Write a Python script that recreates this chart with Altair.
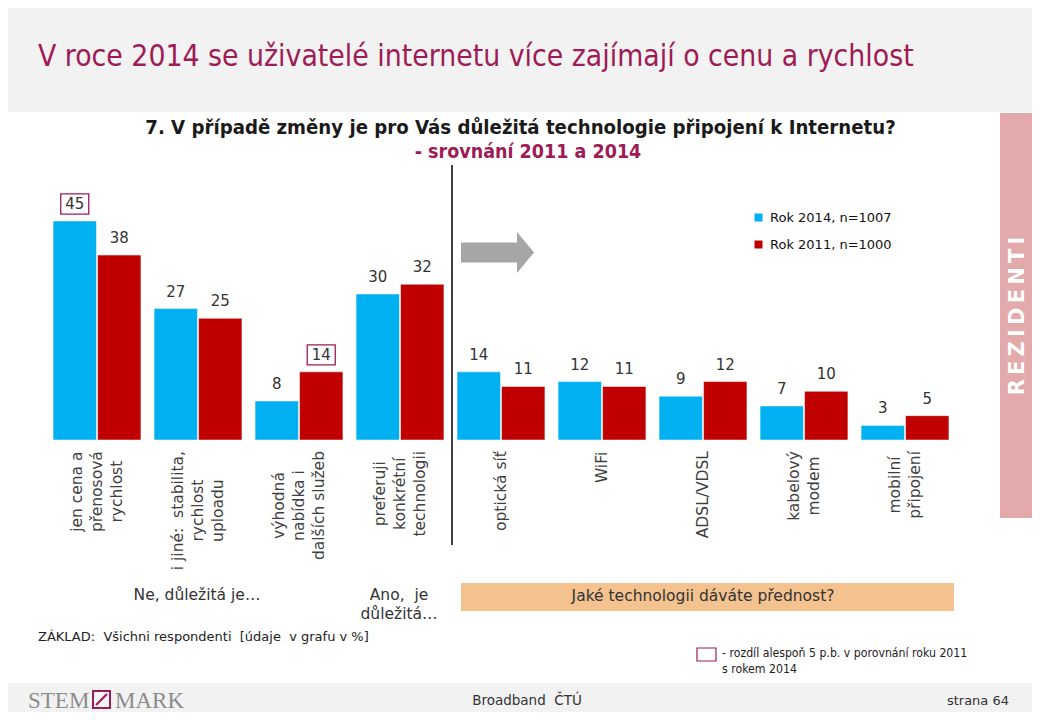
import altair as alt
import pandas as pd

# ---------------- data ----------------
categories = [
    "jen cena a přenosová rychlost",
    "i jiné: stabilita, rychlost uploadu",
    "výhodná nabídka i dalších služeb",
    "preferuji konkrétní technologii",
    "optická síť",
    "WiFi",
    "ADSL/VDSL",
    "kabelový modem",
    "mobilní připojení",
]
label_lines = [
    ["jen cena a", "přenosová", "rychlost"],
    ["i jiné:\u00a0 stabilita,", "rychlost", "uploadu"],
    ["výhodná", "nabídka i", "dalších služeb"],
    ["preferuji", "konkrétní", "technologii"],
    ["optická síť"],
    ["WiFi"],
    ["ADSL/VDSL"],
    ["kabelový", "modem"],
    ["mobilní", "připojení"],
]
series = ["Rok 2014, n=1007", "Rok 2011, n=1000"]
values_2014 = [45, 27, 8, 30, 14, 12, 9, 7, 3]
values_2011 = [38, 25, 14, 32, 11, 11, 12, 10, 5]
highlighted = [(categories[0], series[0]), (categories[2], series[1])]

slide_title = "V roce 2014 se uživatelé internetu více zajímají o cenu a rychlost"
question = "7. V případě změny je pro Vás důležitá technologie připojení k Internetu?"
question_sub = "- srovnání 2011 a 2014"
group_no = "Ne, důležitá je…"
group_yes = ["Ano,\u00a0 je", "důležitá…"]
group_tech = "Jaké technologii dáváte přednost?"
base_note = "ZÁKLAD:\u00a0 Všichni respondenti\u00a0 [údaje\u00a0 v grafu v %]"
diff_note = ["- rozdíl alespoň 5 p.b. v porovnání roku 2011", "s rokem 2014"]
side_text = "R\u2009E\u2009Z\u2009I\u2009D\u2009E\u2009N\u2009T\u2009I"
footer_mid = "Broadband\u00a0 ČTÚ"
footer_right = "strana 64"
logo_left = "STEM"
logo_right = "MARK"

# ---------------- helpers ----------------
OFF = 8  # page margin


def px(v):
    return v - OFF


MAROON = "#9E1B55"
BLUE = "#00B0F0"
RED = "#C00000"
TXT = "#333333"
one = pd.DataFrame({"k": [0]})

# approximate DejaVu Sans advance widths (em) for centering rotated labels
CW = {' ': .318, '\u00a0': .318, 'a': .613, 'á': .613, 'b': .635, 'c': .550, 'č': .550,
      'd': .635, 'e': .615, 'é': .615, 'ě': .615, 'f': .352, 'g': .635, 'h': .634,
      'i': .278, 'í': .278, 'j': .278, 'k': .579, 'l': .278, 'm': .974, 'n': .634,
      'o': .612, 'p': .635, 'r': .411, 'ř': .411, 's': .521, 'š': .521, 't': .392,
      'ť': .392, 'u': .634, 'ů': .634, 'v': .592, 'y': .592, 'ý': .592, 'z': .525,
      'ž': .525, ',': .318, ':': .337, '/': .337, 'A': .684, 'D': .770, 'S': .635,
      'L': .557, 'V': .684, 'W': .989, 'F': .575}
LAB_FS = 15.5
LAB_LH = 20


def text_w(s, fs):
    return sum(CW.get(c, 0.6) for c in s) * fs


def rect(x1, y1, x2, y2, **kw):
    return alt.Chart(one).mark_rect(**kw).encode(
        x=alt.value(px(x1)), x2=alt.value(px(x2)),
        y=alt.value(px(y1)), y2=alt.value(px(y2)))


def label(text, x, y, **kw):
    return alt.Chart(pd.DataFrame({"t": [text]})).mark_text(**kw).encode(
        x=alt.value(px(x)), y=alt.value(px(y)), text="t:N")


# ---------------- scales ----------------
x_scale = alt.Scale(domain=categories, range=[px(46.5), px(955.5)],
                    paddingInner=0.13, paddingOuter=0.065)
Y0, Y45 = px(440), px(221)
y_scale = alt.Scale(domain=[0, 45], range=[Y0, Y45], nice=False, zero=True)
px_per_unit = (Y0 - Y45) / 45.0
color_scale = alt.Scale(domain=series, range=[BLUE, RED])

X = alt.X("category:N", scale=x_scale, axis=None, sort=categories)
XO = alt.XOffset("series:N", scale=alt.Scale(domain=series, paddingInner=0.025), sort=series)
Y = alt.Y("value:Q", scale=y_scale, axis=None)

rows = []
for c, v14, v11 in zip(categories, values_2014, values_2011):
    rows.append({"category": c, "series": series[0], "value": v14})
    rows.append({"category": c, "series": series[1], "value": v11})
bars_df = pd.DataFrame(rows)
hl_df = pd.DataFrame([r for r in rows if (r["category"], r["series"]) in highlighted])

lab_df = pd.DataFrame({
    "category": categories,
    "lines": label_lines,
    "n": [len(ls) for ls in label_lines],
    "ly": [px(451) + max(text_w(l, LAB_FS) for l in ls) / 2 for ls in label_lines],
})

# ---------------- layers ----------------
layers = []
# backgrounds
layers.append(rect(0, 0, 1040, 112, color="#F2F2F2"))
layers.append(rect(0, 683, 1040, 720, color="#F2F2F2"))
layers.append(rect(1000, 113, 1040, 518, color="#E2AAAA"))
layers.append(rect(461, 583, 954, 611, color="#F4C28F"))

# divider
layers.append(alt.Chart(one).mark_rule(color="black", strokeWidth=1.5).encode(
    x=alt.value(px(452)), y=alt.value(px(165)), y2=alt.value(px(545))))

# bars
layers.append(alt.Chart(bars_df).mark_bar(stroke="white", strokeWidth=0.5).encode(
    x=X, xOffset=XO, y=Y,
    color=alt.Color("series:N", scale=color_scale, sort=series,
                    legend=alt.Legend(title=None, orient="none", legendX=px(752), legendY=px(211),
                                      symbolType="square", symbolSize=64, symbolStrokeWidth=0,
                                      labelFont="DejaVu Sans", labelFontSize=13, labelColor="#111111",
                                      rowPadding=13, labelOffset=5, padding=0))))

# value labels
layers.append(alt.Chart(bars_df).mark_text(font="DejaVu Sans", fontSize=15, color=TXT,
                                           baseline="middle", dy=-17).encode(
    x=X, xOffset=XO, y=Y, text="value:Q"))

# highlight boxes
BOX = "M-1,-0.72L1,-0.72L1,0.72L-1,0.72Z"
layers.append(alt.Chart(hl_df).transform_calculate(
    yb=f"datum.value + {17.0 / px_per_unit}").mark_point(
    shape=BOX, size=28 * 28, filled=False, color=MAROON, strokeWidth=1.3, opacity=1).encode(
    x=X, xOffset=XO, y=alt.Y("yb:Q", scale=y_scale, axis=None)))

# category labels (rotated); block of lines centred on the band
for n in sorted(set(lab_df["n"])):
    layers.append(alt.Chart(lab_df[lab_df["n"] == n]).mark_text(
        angle=270, align="center", baseline="middle", lineHeight=LAB_LH,
        dy=-(n - 1) * LAB_LH / 2, font="DejaVu Sans", fontSize=LAB_FS,
        color="#404040").encode(
        x=X, y=alt.Y("ly:Q", scale=None, axis=None), text="lines:N"))

# arrow
ARROW = "M-1,-0.274L0.534,-0.274L0.534,-0.562L1,0L0.534,0.562L0.534,0.274L-1,0.274Z"
layers.append(alt.Chart(one).mark_point(shape=ARROW, size=73 * 73, filled=True,
                                        color="#A6A6A6", opacity=1).encode(
    x=alt.value(px(497.5)), y=alt.value(px(252.5))))

# titles
layers.append(label(slide_title, 38, 57, font="DejaVu Sans Condensed", fontSize=29.8,
                    color=MAROON, align="left", baseline="middle"))
layers.append(label(question, 520.5, 128, font="DejaVu Sans Condensed", fontSize=20.2,
                    fontWeight="bold", color="#1A1A1A", align="center", baseline="middle"))
layers.append(label(question_sub, 528, 152, font="DejaVu Sans Condensed", fontSize=19.5,
                    fontWeight="bold", color=MAROON, align="center", baseline="middle"))

# group labels
layers.append(label(group_no, 197, 595, font="DejaVu Sans", fontSize=15.5, color=TXT,
                    align="center", baseline="middle"))
layers.append(label(group_yes, 399, 595, font="DejaVu Sans", fontSize=15.5, color=TXT,
                    align="center", baseline="middle", lineHeight=19))
layers.append(label(group_tech, 703, 596, font="DejaVu Sans", fontSize=15.5, color=TXT,
                    align="center", baseline="middle"))

# notes
layers.append(label(base_note, 38, 637, font="DejaVu Sans", fontSize=13, color="#222222",
                    align="left", baseline="middle"))
layers.append(rect(697, 648, 716, 661, fillOpacity=0, stroke=MAROON, strokeWidth=1.2))
layers.append(label(diff_note, 722, 653, font="DejaVu Sans Condensed", fontSize=12.2, color="#222222",
                    align="left", baseline="middle", lineHeight=16))

# side band text
layers.append(label(side_text, 1018, 316, font="DejaVu Sans", fontSize=21, fontWeight="bold",
                    color="white", angle=270, align="center", baseline="middle"))

# footer
layers.append(label(footer_mid, 527, 701, font="DejaVu Sans", fontSize=13.5, color=TXT,
                    align="center", baseline="middle"))
layers.append(label(footer_right, 1009, 701, font="DejaVu Sans", fontSize=13, color=TXT,
                    align="right", baseline="middle"))
layers.append(label(logo_left, 28, 708, font="Liberation Serif", fontSize=23, color="#8C8C8C",
                    align="left", baseline="alphabetic"))
layers.append(label(logo_right, 115, 708, font="Liberation Serif", fontSize=23, color="#8C8C8C",
                    align="left", baseline="alphabetic"))
layers.append(rect(93, 691, 110, 708, color="#F4F4F4", stroke=MAROON, strokeWidth=2))
layers.append(alt.Chart(one).mark_rule(color=MAROON, strokeWidth=2.2).encode(
    x=alt.value(px(96)), x2=alt.value(px(107)), y=alt.value(px(705)), y2=alt.value(px(694))))

chart = alt.layer(*layers).properties(
    width=1024, height=704, padding=0,
    autosize=alt.AutoSizeParams(type="none"),
    background="white",
).configure_view(strokeWidth=0)

chart.save("out.html", embed_options={"renderer": "svg", "actions": False})
